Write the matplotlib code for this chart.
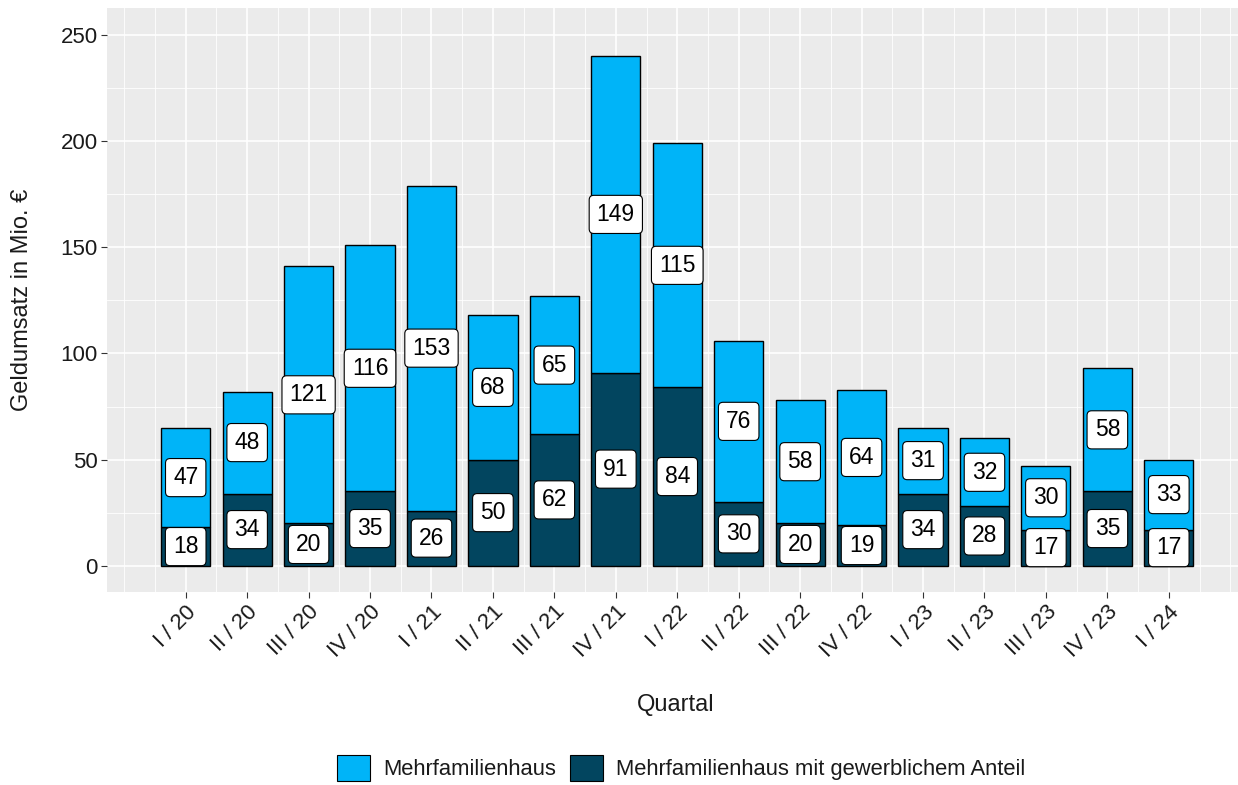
import numpy as np
import matplotlib.pyplot as plt
from matplotlib.patches import Patch

plt.rcParams['font.family'] = ['Liberation Sans', 'DejaVu Sans']

quarters = ['I / 20', 'II / 20', 'III / 20', 'IV / 20',
            'I / 21', 'II / 21', 'III / 21', 'IV / 21',
            'I / 22', 'II / 22', 'III / 22', 'IV / 22',
            'I / 23', 'II / 23', 'III / 23', 'IV / 23', 'I / 24']
# Mehrfamilienhaus mit gewerblichem Anteil (bottom)
gewerbe = [18, 34, 20, 35, 26, 50, 62, 91, 84, 30, 20, 19, 34, 28, 17, 35, 17]
# Mehrfamilienhaus (top)
mfh = [47, 48, 121, 116, 153, 68, 65, 149, 115, 76, 58, 64, 31, 32, 30, 58, 33]

light = '#00B4F8'
dark = '#02455F'

W, H = 1238, 785
fig = plt.figure(figsize=(W / 100, H / 100), dpi=100)
left, right, top, bottom = 107.3, 1245, 8.3, 591.7
ax = fig.add_axes([left / W, 1 - bottom / H, (right - left) / W, (bottom - top) / H])
ax.set_facecolor('#EBEBEB')

x = np.arange(1, len(quarters) + 1)
width = 0.8
g = np.array(gewerbe)
m = np.array(mfh)
ax.bar(x, g, width, color=dark, edgecolor='black', linewidth=1.0)
ax.bar(x, m, width, bottom=g, color=light, edgecolor='black', linewidth=1.0)

box = dict(boxstyle='round,pad=0.33,rounding_size=0.2', fc='white', ec='black', lw=0.8)
for xi, gi, mi in zip(x, g, m):
    ax.text(xi, gi / 2, str(gi), ha='center', va='center',
            fontsize=16.5, color='black', bbox=box)
    ax.text(xi, gi + mi / 2, str(mi), ha='center', va='center',
            fontsize=16.5, color='black', bbox=box)

ax.set_xlim(-0.276, 18.24)
ax.set_ylim(-12.25, 262.6)
ax.set_xticks(x)
ax.set_xticklabels(quarters, rotation=45, ha='right', va='top',
                   rotation_mode='anchor')
ax.set_xticks(np.arange(0, 18.5, 0.5), minor=True)
ax.set_yticks(np.arange(0, 251, 50))
ax.set_yticks(np.arange(25, 262, 50), minor=True)
ax.tick_params(which='major', length=4, width=0.8, color='#333333',
               labelsize=16, labelcolor='#1a1a1a', pad=3)
ax.tick_params(which='minor', length=0)
ax.grid(which='major', color='white', linewidth=1.2)
ax.grid(which='minor', color='white', linewidth=0.6)
ax.set_axisbelow(True)
for s in ax.spines.values():
    s.set_visible(False)

fig.text(22 / W, 1 - 300 / H, 'Geldumsatz in Mio. €', rotation=90,
         ha='center', va='center', fontsize=17, color='#1a1a1a')
fig.text(676 / W, 1 - 705 / H, 'Quartal', ha='center', va='center',
         fontsize=17, color='#1a1a1a')

handles = [Patch(facecolor=light, edgecolor='black', linewidth=0.8),
           Patch(facecolor=dark, edgecolor='black', linewidth=0.8)]
fig.legend(handles, ['Mehrfamilienhaus', 'Mehrfamilienhaus mit gewerblichem Anteil'],
           loc='center', bbox_to_anchor=(681 / W, 1 - 768 / H), ncol=2,
           frameon=False, fontsize=15.8, handlelength=1.5, handleheight=1.5,
           handletextpad=0.6, columnspacing=0.65, borderpad=0,
           labelcolor='#1a1a1a')

fig.savefig('out.png', dpi=100)
